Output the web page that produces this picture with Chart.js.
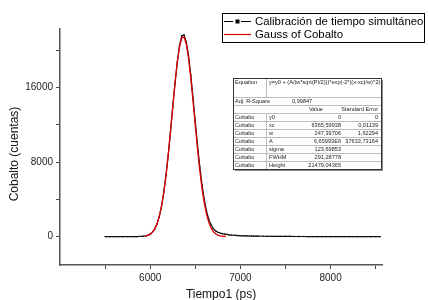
<!DOCTYPE html>
<html>
<head>
<meta charset="utf-8">
<script src="https://cdn.jsdelivr.net/npm/chart.js@4.4.0/dist/chart.umd.min.js"></script>
<style>
  html, body { margin: 0; padding: 0; background: #fff; }
  #wrap { width: 428px; height: 300px; }
</style>
</head>
<body>
<div id="wrap"><canvas id="myChart" width="428" height="300"></canvas></div>
<script>
// measured counts (Calibración de tiempo simultáneo)
const timeData = [
  5500, 5550, 5600, 5650, 5700, 5750,
  5800, 5825, 5850, 5875, 5900, 5925, 5950, 5975, 6000, 6025, 6050, 6075,
  6100, 6125, 6150, 6175, 6200, 6225, 6250, 6275, 6300, 6325, 6350, 6375,
  6400, 6425, 6450, 6475, 6500, 6525, 6550, 6575, 6600, 6625, 6650, 6675,
  6700, 6725, 6750, 6775, 6800, 6825, 6850, 6875, 6900, 6925, 6950, 6975,
  7000, 7025, 7050, 7075, 7100, 7125, 7150, 7175, 7200,
  7250, 7300, 7350, 7400, 7450, 7500, 7550, 7600, 7650, 7700, 7750, 7800,
  7850, 7900, 7950, 8000, 8050, 8100, 8150, 8200, 8250, 8300, 8350, 8400,
  8450, 8500, 8550
];
const countsData = [
  0, 0, 0, 1, 2, 3,
  5, 8, 12, 18, 30, 50, 85, 150, 270, 480, 820, 1350,
  2130, 3220, 4690, 6540, 8760, 11260, 13900, 16450, 18720, 20480, 21520, 21650,
  20900, 19420, 17350, 14900, 12320, 9800, 7520, 5560, 3950, 2720, 1850, 1250,
  860, 620, 470, 390, 330, 280, 240, 200, 170, 150, 130, 115,
  100, 92, 85, 78, 72, 66, 60, 55, 50,
  45, 40, 35, 30, 27, 24, 21, 18, 16, 14, 12, 10,
  9, 8, 7, 6, 5, 5, 4, 4, 3, 3, 3, 2,
  2, 2, 2
];

// Gauss of Cobalto (fit curve)
const timeFit = [
  5940, 5950, 5975, 6000, 6025, 6050, 6075, 6100, 6125, 6150, 6175, 6200,
  6225, 6250, 6275, 6300, 6325, 6350, 6375, 6400, 6425, 6450, 6475, 6500,
  6525, 6550, 6575, 6600, 6625, 6650, 6675, 6700, 6725, 6750, 6775, 6800,
  6825, 6840
];
const countsFit = [
  58, 76, 147, 272, 485, 829, 1360, 2144, 3239, 4702, 6553, 8768,
  11259, 13880, 16428, 18661, 20354, 21309, 21417, 20665, 19140, 17018, 14526, 11904,
  9363, 7071, 5125, 3567, 2384, 1528, 941, 556, 316, 172, 90, 45,
  22, 14
];

// tick marks (all) and labelled ticks
const xTickMarks = [5500, 6000, 6500, 7000, 7500, 8000, 8500];
const xTickLabels = [6000, 7000, 8000];
const yTickMarks = [0, 4000, 8000, 12000, 16000, 20000];
const yTickLabels = [0, 8000, 16000];

const legendLabels = ["Calibración de tiempo simultáneo", "Gauss of Cobalto"];

const tableRows = [
  ["Cobalto", "y0", "0", "0"],
  ["Cobalto", "xc", "6365,59938", "0,01139"],
  ["Cobalto", "w", "247,39706", "1,62294"],
  ["Cobalto", "A", "6,65993E6", "37633,73164"],
  ["Cobalto", "sigma", "123,69853", ""],
  ["Cobalto", "FWHM", "291,28778", ""],
  ["Cobalto", "Height", "21479,04365", ""]
];

const FONT = "'Liberation Sans', Arial, sans-serif";

const extras = {
  id: "extras",
  afterDraw(chart) {
    const ctx = chart.ctx;
    const area = chart.chartArea;
    ctx.save();

    // axis titles
    ctx.fillStyle = "#111";
    ctx.font = "12px " + FONT;
    ctx.textAlign = "center";
    ctx.textBaseline = "middle";
    ctx.fillText("Tiempo1 (ps)", (area.left + area.right) / 2, 295);
    ctx.save();
    ctx.translate(15, 154);
    ctx.rotate(-Math.PI / 2);
    ctx.fillText("Cobalto (cuentas)", 0, 0);
    ctx.restore();

    // legend
    ctx.fillStyle = "#fff";
    ctx.fillRect(222, 13, 202, 29);
    ctx.strokeStyle = "#000";
    ctx.lineWidth = 1;
    ctx.strokeRect(222.5, 13.5, 202, 29);
    ctx.lineWidth = 1.2;
    ctx.beginPath();
    ctx.moveTo(224, 21.5); ctx.lineTo(233, 21.5);
    ctx.moveTo(241, 21.5); ctx.lineTo(251, 21.5);
    ctx.stroke();
    ctx.fillStyle = "#000";
    ctx.fillRect(235.5, 19.5, 4, 4);
    ctx.strokeStyle = "#e00000";
    ctx.beginPath();
    ctx.moveTo(224, 34.5); ctx.lineTo(251, 34.5);
    ctx.stroke();
    ctx.fillStyle = "#000";
    ctx.font = "11.4px " + FONT;
    ctx.textAlign = "left";
    ctx.fillText(legendLabels[0], 255, 22);
    ctx.fillText(legendLabels[1], 255, 35);

    // fit results table
    const L = 233, R = 381, T = 78;
    const rowY = [78, 97, 105, 113, 121, 129, 137, 145, 153, 161, 169];
    ctx.fillStyle = "#fff";
    ctx.fillRect(L, T, R - L, 169 - T);
    ctx.strokeStyle = "#bbb";
    ctx.lineWidth = 1;
    ctx.beginPath();
    rowY.slice(1, -1).forEach((y) => { ctx.moveTo(L, y + 0.5); ctx.lineTo(R, y + 0.5); });
    ctx.moveTo(266.5, 78); ctx.lineTo(266.5, 97);
    ctx.moveTo(266.5, 113); ctx.lineTo(266.5, 169);
    ctx.stroke();
    ctx.strokeStyle = "#333";
    ctx.strokeRect(L + 0.5, T + 0.5, R - L, 169 - T);
    ctx.strokeStyle = "#888";
    ctx.beginPath();
    ctx.moveTo(R + 1.5, T + 2); ctx.lineTo(R + 1.5, 170.5); ctx.lineTo(L + 2, 170.5);
    ctx.stroke();

    ctx.fillStyle = "#222";
    ctx.font = "5.6px " + FONT;
    ctx.textBaseline = "middle";
    ctx.textAlign = "left";
    ctx.fillText("Equation", 235, 82);
    ctx.fillText("y=y0 + (A/(w*sqrt(PI/2)))*exp(-2*((x-xc)/w)^2)", 269, 82);
    ctx.fillText("Adj. R-Square", 235, 101.5);
    ctx.fillText("0,99847", 292, 101.5);
    ctx.textAlign = "center";
    ctx.fillText("Value", 316, 109.5);
    ctx.textAlign = "right";
    ctx.fillText("Standard Error", 378, 109.5);
    tableRows.forEach((row, i) => {
      const y = rowY[3 + i] + 4.5;
      ctx.textAlign = "left";
      ctx.fillText(row[0], 235, y);
      ctx.fillText(row[1], 269, y);
      ctx.textAlign = "right";
      ctx.fillText(row[2], 341, y);
      ctx.fillText(row[3], 378, y);
    });
    ctx.restore();
  }
};

const ctx = document.getElementById("myChart").getContext("2d");
new Chart(ctx, {
  type: "scatter",
  data: {
    datasets: [
      {
        label: legendLabels[0],
        data: timeData.map((t, i) => ({ x: t, y: countsData[i] })),
        showLine: true,
        borderColor: "#111",
        borderWidth: 1.2,
        pointRadius: 0.9,
        pointStyle: "rect",
        pointBackgroundColor: "#111",
        pointBorderWidth: 0,
        order: 2
      },
      {
        label: legendLabels[1],
        data: timeFit.map((t, i) => ({ x: t, y: countsFit[i] })),
        showLine: true,
        borderColor: "#e00000",
        borderWidth: 1.3,
        pointRadius: 0,
        order: 1
      }
    ]
  },
  options: {
    responsive: false,
    animation: false,
    layout: { padding: { top: 29, right: 46, left: 0, bottom: 0 } },
    plugins: { legend: { display: false }, tooltip: { enabled: false } },
    scales: {
      x: {
        type: "linear",
        min: 5000,
        max: 8570,
        afterFit: (s) => { s.height = 35; },
        afterBuildTicks: (s) => { s.ticks = xTickMarks.map((v) => ({ value: v })); },
        border: { color: "#555", width: 1.5 },
        grid: { drawOnChartArea: false, tickLength: 4, tickColor: "#444" },
        ticks: {
          padding: 3,
          color: "#222",
          font: { family: FONT, size: 10 },
          autoSkip: false,
          maxRotation: 0,
          callback: (v) => (xTickLabels.includes(v) ? String(v) : "")
        }
      },
      y: {
        min: -3040,
        max: 22270,
        afterFit: (s) => { s.width = 60; },
        afterBuildTicks: (s) => { s.ticks = yTickMarks.map((v) => ({ value: v })); },
        border: { color: "#555", width: 1.5 },
        grid: { drawOnChartArea: false, tickLength: 4, tickColor: "#444" },
        ticks: {
          padding: 3,
          color: "#222",
          font: { family: FONT, size: 10 },
          autoSkip: false,
          callback: (v) => (yTickLabels.includes(v) ? String(v) : "")
        }
      }
    }
  },
  plugins: [extras]
});
</script>
</body>
</html>
